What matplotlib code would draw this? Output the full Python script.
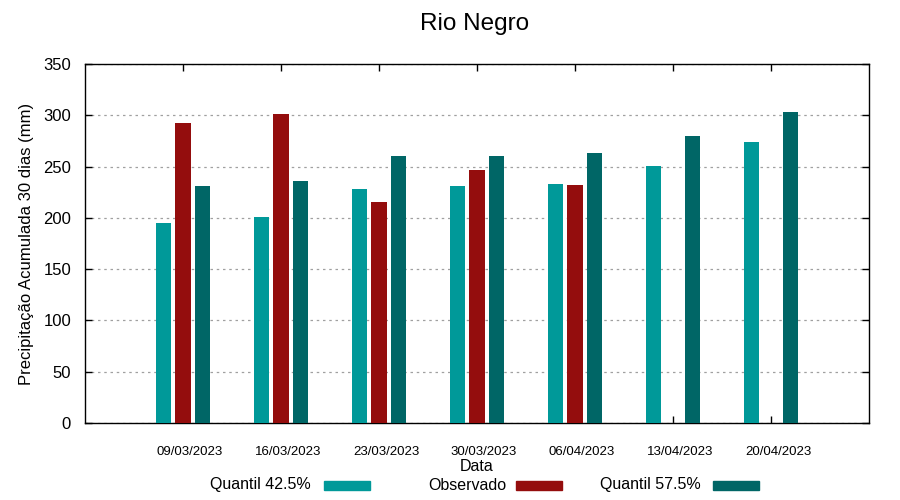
import matplotlib
matplotlib.use("Agg")
import matplotlib.pyplot as plt
from matplotlib.patches import Rectangle
from matplotlib.transforms import ScaledTranslation
import numpy as np

plt.rcParams['font.family'] = ['Liberation Sans', 'DejaVu Sans']

dates = ["09/03/2023", "16/03/2023", "23/03/2023", "30/03/2023",
         "06/04/2023", "13/04/2023", "20/04/2023"]
q425 = [195, 201, 228, 231, 233, 251, 274]
observado = [292, 301, 215, 247, 232, np.nan, np.nan]
q575 = [231, 236, 260, 260, 263, 280, 303]

series_names = ["Quantil 42.5%", "Observado", "Quantil 57.5%"]
series_colors = ["#009999", "#940d0d", "#006666"]

fig = plt.figure(figsize=(9, 5), dpi=100)
ax = fig.add_axes([85/900, 77/500, 784/900, 359/500])

x = np.arange(len(dates))
w = 0.16
offsets = [-0.2, 0.0, 0.2]
for vals, off, col in zip([q425, observado, q575], offsets, series_colors):
    v = np.array(vals, dtype=float)
    m = ~np.isnan(v)
    ax.bar(x[m] + off, v[m], width=w, color=col, zorder=3)

ax.set_xlim(-1, 7)
ax.set_ylim(0, 350)
ax.set_yticks(np.arange(0, 351, 50))
ax.set_xticks(x)
ax.set_xticklabels(dates, fontsize=9.5)
ax.tick_params(axis='x', direction='in', top=True, length=5, width=1, pad=16.5)
ax.tick_params(axis='y', direction='in', right=True, length=5, width=1,
               labelsize=12, pad=10)
shift = ScaledTranslation(7/100, 0, fig.dpi_scale_trans)
for lbl in ax.get_xticklabels():
    lbl.set_transform(lbl.get_transform() + shift)
ax.yaxis.grid(True, linestyle=(0, (2, 3)), color='#a0a0a0', linewidth=0.9, zorder=0)
for s in ax.spines.values():
    s.set_linewidth(1.0)

ax.set_ylabel("Precipitação Acumulada 30 dias (mm)", fontsize=12, labelpad=7)
ax.set_xlabel("Data", fontsize=11.5, labelpad=1)
fig.text(475/900, 1 - 24/500, "Rio Negro", ha='center', va='center', fontsize=17.5)

# legend (text left of sample, gnuplot style)
leg_y = 1 - 485/500
text_right = [311, 506, 701]
sample_left = [324, 516, 713]
for name, col, tr, sl in zip(series_names, series_colors, text_right, sample_left):
    fig.text(tr/900, leg_y, name, ha='right', va='center', fontsize=11.5)
    fig.patches.append(Rectangle((sl/900, 1 - 489.5/500), 46/900, 9/500,
                                 transform=fig.transFigure, color=col, figure=fig))

fig.savefig("out.png", dpi=100)
